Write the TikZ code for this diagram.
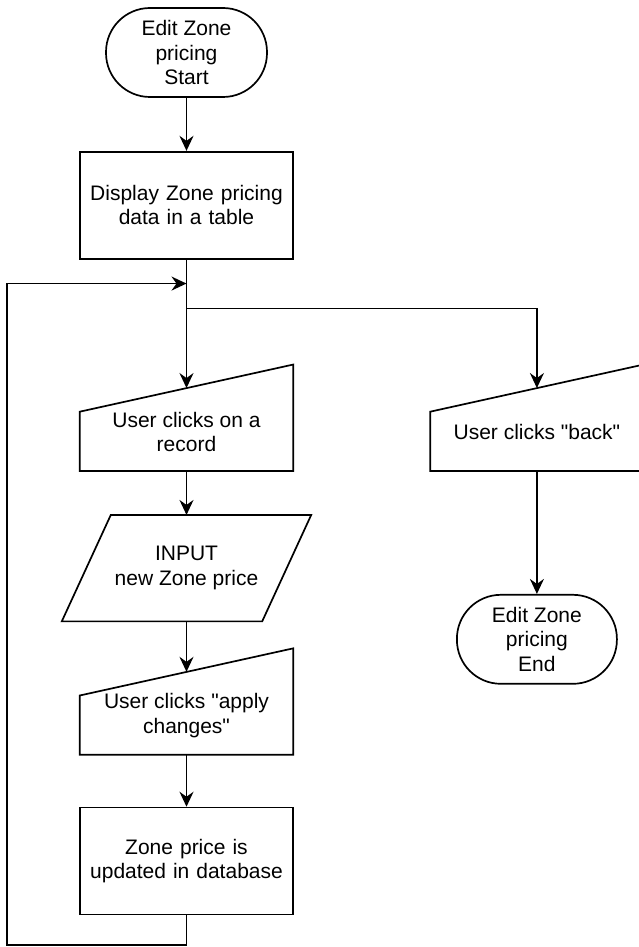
\documentclass[tikz,border=0pt]{standalone}
\usepackage{fontspec}
\setmainfont{Liberation Sans}
\usetikzlibrary{positioning, arrows.meta, calc}
\tikzset{
  flowline/.style={line width=1.7pt, black},
  terminal/.style={draw, flowline, rounded corners=44pt, minimum width=161pt, minimum height=89pt, align=center, inner sep=0pt},
  process/.style={draw, flowline, minimum width=213pt, minimum height=107pt, text width=200pt, align=center},
  manualin/.style={minimum width=213pt, minimum height=106pt, inner sep=0pt},
  iobox/.style={minimum width=200pt, minimum height=106pt, align=center, inner sep=0pt},
}

\begin{document}
\begin{tikzpicture}[x=1pt,y=1pt,font=\fontsize{21}{24.5}\selectfont,>={Stealth[length=15pt,width=14pt,inset=5pt]}]
  \useasboundingbox (0,0) rectangle (639,-947);

  % main column
  \node[terminal] (start) at (186.5,-52.5) {Edit Zone\\pricing\\Start};
  \node[process,below=53pt of start] (disp) {Display Zone pricing\\data in a table};
  \node[manualin,below=105pt of disp,label={[align=center,yshift=-14pt]center:{User clicks on a\\record}}] (rec) {};
  \node[iobox,below=44pt of rec] (inp) {INPUT\\new Zone price};
  \node[manualin,below=27pt of inp,label={[align=center,yshift=-14pt]center:{User clicks \textquotedbl apply\\changes\textquotedbl}}] (apply) {};
  \node[process,below=52pt of apply] (upd) {Zone price is\\updated in database};

  % back branch
  \node[manualin,right=137pt of rec,label={[yshift=-14pt]center:{User clicks \textquotedbl back\textquotedbl}}] (back) {};
  \node[terminal,minimum width=160pt,below=123pt of back] (end) {Edit Zone\\pricing\\End};

  % slanted tops of the manual inputs
  \foreach \n in {rec,apply,back} {
    \draw[flowline] (\n.south west) -- ($(\n.north west)!0.443!(\n.south west)$) -- (\n.north east) -- (\n.south east) -- cycle;
    \coordinate (\n-top) at ($(\n.north)+(0,-23.5)$);
  }
  \draw[flowline] ($(inp.south west)+(-24.5,0)$) -- ($(inp.north west)+(24.5,0)$) -- ($(inp.north east)+(24.5,0)$) -- ($(inp.south east)+(-24.5,0)$) -- cycle;

  \coordinate (join) at ($(disp.south)+(0,-24)$);
  \coordinate (split) at ($(disp.south)+(0,-49)$);
  \coordinate (loopturn) at (7,-945);

  \draw[flowline,->] (start) -- (disp);
  \draw[flowline] (disp) -- (split);
  \draw[flowline,->] (split) -- (rec-top);
  \draw[flowline,->] (split) -| (back-top);
  \draw[flowline,->] (rec) -- (inp);
  \draw[flowline,->] (inp) -- (apply-top);
  \draw[flowline,->] (apply) -- (upd);
  \draw[flowline,->] (back) -- (end);
  \draw[flowline,->] (upd.south) |- (loopturn) |- (join);
\end{tikzpicture}
\end{document}
